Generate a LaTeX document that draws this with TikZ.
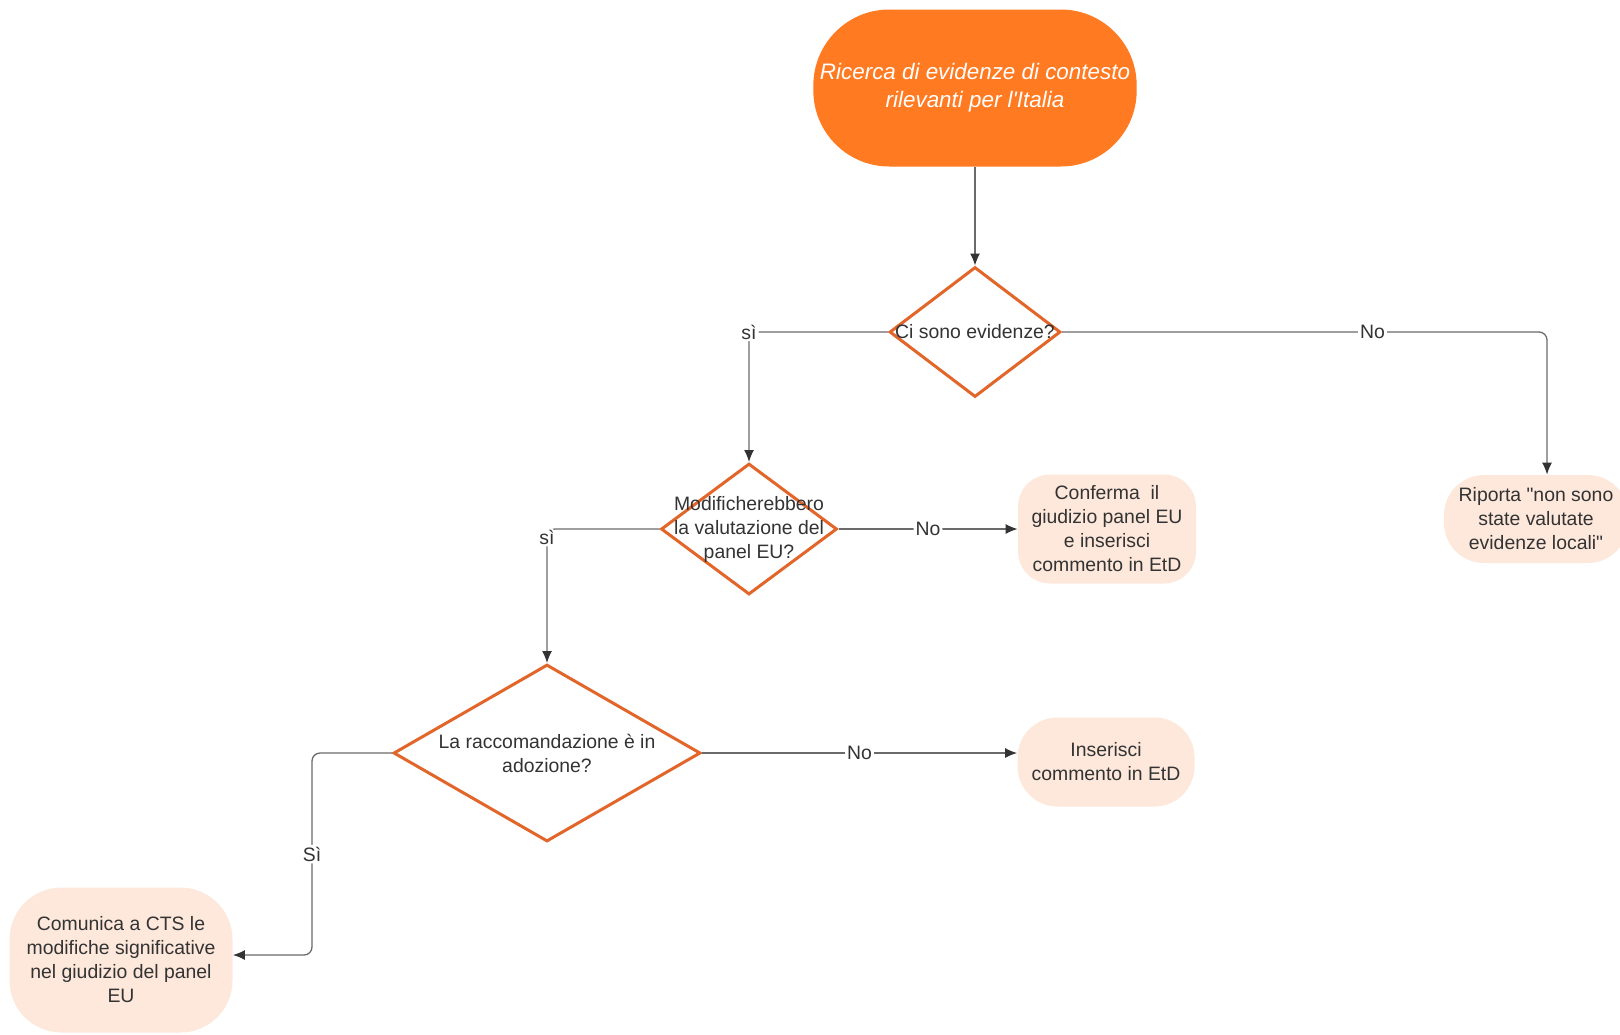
\documentclass[tikz,border=0pt]{standalone}
\usepackage{fontspec}
\setmainfont{Liberation Sans}
\usetikzlibrary{shapes.geometric,arrows.meta}
\definecolor{orangefill}{HTML}{FF7A21}
\definecolor{orangeline}{HTML}{E2652A}
\definecolor{peach}{HTML}{FDE8DB}
\definecolor{txt}{HTML}{333333}
\definecolor{wire}{HTML}{6A6A6A}

\begin{document}
\begin{tikzpicture}[x=0.5pt,y=-0.5pt,
  every node/.style={font=\fontsize{9.7}{12}\selectfont,text=txt,align=center},
  start/.style={fill=orangefill,rounded corners=38pt,minimum width=159.5pt,minimum height=78.5pt,text=white,font=\fontsize{11.2}{14}\selectfont\itshape},
  decision/.style={diamond,draw=orangeline,line width=1.5pt,inner sep=0pt,fill=white},
  outcome/.style={fill=peach,inner sep=0pt},
  lbl/.style={fill=white,inner sep=1pt},
  arr/.style={draw=wire,line width=0.65pt,rounded corners=4pt,-{Latex[length=6pt,width=5pt,color=txt]}}]
  \useasboundingbox (0,0) rectangle (1620,1034);
  \node[start] (start) at (975,88) {Ricerca di evidenze di contesto\\rilevanti per l\textquotesingle Italia};
  \node[decision,minimum width=85.5pt,minimum height=65pt,label={center:Ci sono evidenze?}] (d1) at (975,332) {};
  \node[decision,minimum width=88pt,minimum height=65.5pt,label={center:Modificherebbero\\la valutazione del\\panel EU?}] (d2) at (749,529) {};
  \node[decision,minimum width=153.5pt,minimum height=88.5pt,label={center:La raccomandazione è in\\adozione?}] (d3) at (547,753) {};
  \node[outcome,rounded corners=16pt,minimum width=89pt,minimum height=54.5pt] (conf) at (1107,529) {Conferma~ il\\giudizio panel EU\\e inserisci\\commento in EtD};
  \node[outcome,rounded corners=20pt,minimum width=92pt,minimum height=44pt] (rip) at (1536,519) {Riporta \textquotedbl non sono\\state valutate\\evidenze locali\textquotedbl};
  \node[outcome,rounded corners=20pt,minimum width=88.5pt,minimum height=44.5pt] (ins) at (1106,762) {Inserisci\\commento in EtD};
  \node[outcome,rounded corners=26pt,minimum width=111.5pt,minimum height=72.5pt] (com) at (121,960) {Comunica a CTS le\\modifiche significative\\nel giudizio del panel\\EU};
  \coordinate (bend) at (312,955);

  \draw[arr] (start) -- (d1);
  \draw[arr] (d1.west) -| node[lbl]{sì} (d2.north);
  \draw[arr] (d1.east) -| node[lbl,pos=0.32]{No} ([xshift=5.5pt]rip.north);
  \draw[arr] (d2.east) -- node[lbl]{No} (conf.west);
  \draw[arr] (d2.west) -| node[lbl,pos=0.53]{sì} (d3.north);
  \draw[arr] (d3.east) -- node[lbl]{No} (d3.east -| ins.west);
  \draw[arr] (d3.west) -| node[lbl,pos=0.75]{Sì} (bend) -- (bend -| com.east);
\end{tikzpicture}
\end{document}
